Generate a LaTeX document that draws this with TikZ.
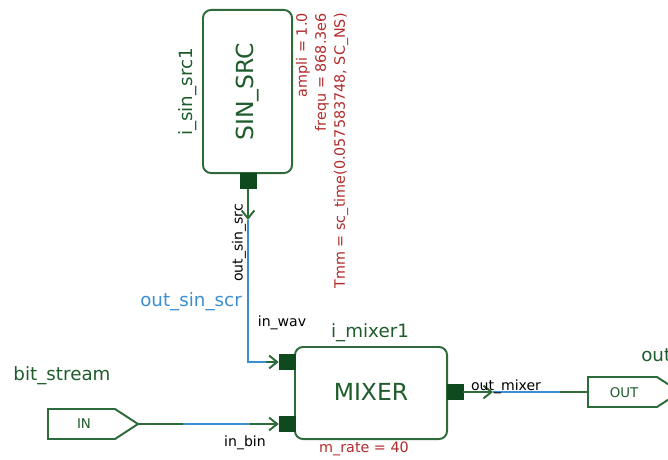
\documentclass[tikz,border=0pt]{standalone}
\usepackage{fontspec}
\setmainfont{DejaVu Sans}
\definecolor{esqVerde}{HTML}{2E6B3A}
\definecolor{esqVerdeOsc}{HTML}{0F4A1F}
\definecolor{esqTexto}{HTML}{1F5C2C}
\definecolor{esqRojo}{HTML}{B02A2A}
\definecolor{esqAzul}{HTML}{3A8ED4}
\usetikzlibrary{
	arrows.meta,
	positioning
}
\tikzset{
	bloque/.style={
		draw=esqVerde,
		line width=1.4pt,
		rounded corners=2mm,
		fill=white
	},
	borne/.style={
		draw=esqVerde,
		line width=1.4pt,
		fill=white
	},
	puerto/.style={
		draw=esqVerdeOsc,
		fill=esqVerdeOsc,
		minimum width=0.4cm,
		minimum height=0.375cm,
		inner sep=0pt
	},
	titulo/.style={
		text=esqTexto,
		inner sep=0pt,
		font=\fontsize{16.7}{20}\selectfont
	},
	instancia/.style={
		text=esqTexto,
		inner sep=0pt,
		font=\fontsize{13}{15}\selectfont
	},
	parametro/.style={
		text=esqRojo,
		inner sep=0pt,
		font=\fontsize{10.2}{12}\selectfont
	},
	nombrePuerto/.style={
		text=black,
		inner sep=0pt,
		font=\fontsize{10}{12}\selectfont
	},
	rotulo/.style={
		text=esqTexto,
		inner sep=0pt,
		font=\fontsize{9.5}{11}\selectfont
	},
	cable/.style={
		line width=1.4pt,
		esqVerde
	},
	cableAzul/.style={
		line width=1.4pt,
		esqAzul
	},
	flecha/.style={
		-{Straight Barb[length=2mm,width=3.2mm]}
	}
}

\begin{document}
\begin{tikzpicture}[x=0.025cm, y=-0.025cm]
		\clip (0,0) rectangle (668,459);
		% fuente senoidal
		\node[bloque, minimum width=2.225cm, minimum height=4.075cm] (sinSrc) at (247.5,91.5) {};
		\node[titulo, rotate=90] (sinSrcTxt) at (247.5,92) {SIN\_SRC};
		\node[instancia, rotate=90] (sinSrcInst) at (188,92) {i\_sin\_src1};
		\node[parametro, rotate=90, anchor=east] (pAmpli) at (303,13) {ampli = 1.0};
		\node[parametro, rotate=90, anchor=east] (pFrequ) at (322,13) {frequ = 868.3e6};
		\node[parametro, rotate=90, anchor=east] (pTmm) at (341,13) {Tmm = sc\_time(0.057583748, SC\_NS)};
		\node[puerto] (pSrc) at (248,181) {};
		\node[nombrePuerto, rotate=90] (lSrc) at (239,243) {out\_sin\_src};
		% mezclador
		\node[bloque, minimum width=3.8cm, minimum height=2.3cm] (mixer) at (371,393) {};
		\node[titulo] (mixerTxt) at (371,392) {MIXER};
		\node[instancia] (mixerInst) at (370,333) {i\_mixer1};
		\node[parametro] (pRate) at (364,449) {m\_rate = 40};
		\node[puerto] (pWav) at (287,362) {};
		\node[puerto] (pBin) at (287,424) {};
		\node[puerto] (pMix) at (455,392) {};
		\node[nombrePuerto] (lWav) at (282,323) {in\_wav};
		\node[nombrePuerto] (lBin) at (245,443) {in\_bin};
		% entrada y salida
		\draw[borne] (48,409) -- (115,409) -- (138,424) -- (115,439) -- (48,439) -- cycle;
		\node[rotulo] (inBit) at (84,424) {IN};
		\coordinate (inTip) at (138,424);
		\node[instancia] (lBit) at (62,376) {bit\_stream};
		\draw[borne] (588,377) -- (657,377) -- (680,392) -- (657,407) -- (588,407) -- cycle;
		\node[rotulo] (outMix) at (624,393) {OUT};
		\coordinate (outTail) at (588,392);
		\node[instancia, anchor=west] (lOut) at (641,355) {out};
		% cables
		\coordinate (cSrc) at (248,220);
		\coordinate (cWav) at (266,362);
		\draw[cable, flecha] (pSrc.south) -- (cSrc);
		\draw[cableAzul] (cSrc) |- (cWav);
		\draw[cable, flecha] (cWav) -- (pWav.west);
		\coordinate (cBin1) at (183,424);
		\coordinate (cBin2) at (250,424);
		\draw[cable] (inTip) -- (cBin1);
		\draw[cableAzul] (cBin1) -- (cBin2);
		\draw[cable, flecha] (cBin2) -- (pBin.west);
		\coordinate (cMix) at (493,392);
		\coordinate (cOut) at (560,392);
		\draw[cable, flecha] (pMix.east) -- (cMix);
		\draw[cableAzul] (cMix) -- (cOut);
		\draw[cable] (cOut) -- (outTail);
		\node[nombrePuerto] (lMix) at (506,387) {out\_mixer};
		\node[text=esqAzul, inner sep=0pt, font=\fontsize{13}{15}\selectfont] (lScr) at (191,302) {out\_sin\_scr};
	\end{tikzpicture}
\end{document}
